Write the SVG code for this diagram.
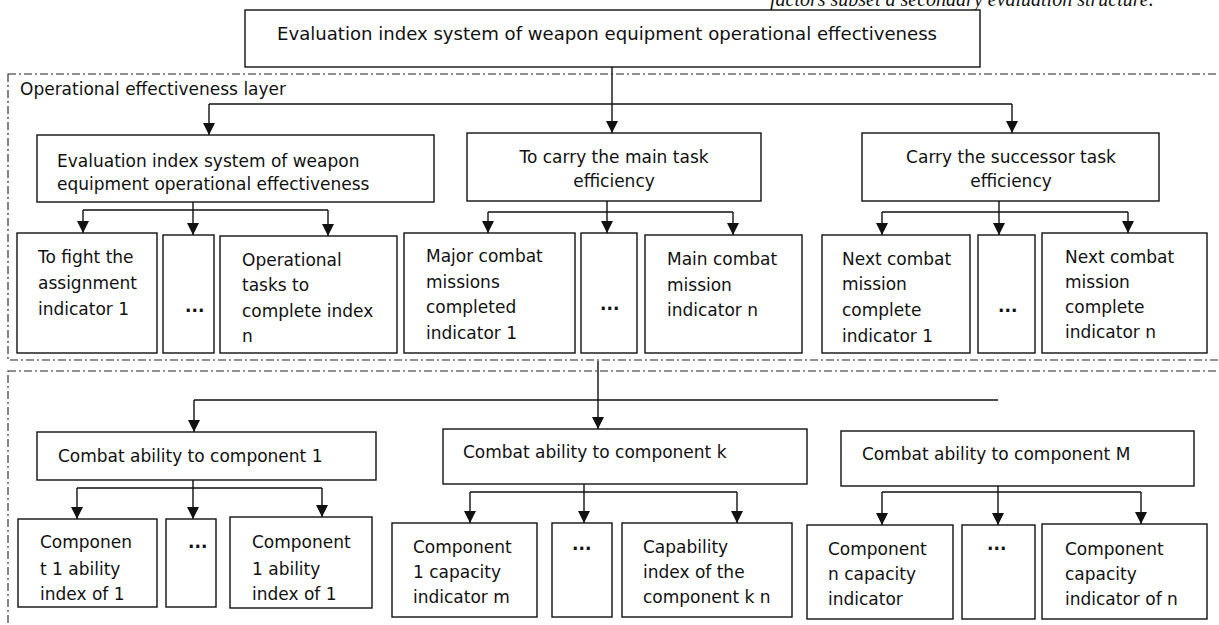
<svg xmlns="http://www.w3.org/2000/svg" width="1219" height="625" viewBox="0 0 1219 625">
<style>
text{font-family:"DejaVu Sans","Liberation Sans",sans-serif;font-size:17px;fill:#111}
.box{fill:#fff;stroke:#111;stroke-width:1.4}
.layer{fill:none;stroke:#222;stroke-width:1.1;stroke-dasharray:8 3 2 3}
.ln{fill:none;stroke:#111;stroke-width:1.4}
.c{text-anchor:middle}
.dots{font-weight:bold}
.cap{font-family:"Liberation Serif",serif;font-size:20px;font-style:italic}
</style>
<defs>
<marker id="ah" markerUnits="userSpaceOnUse" markerWidth="14" markerHeight="14" refX="12" refY="6" orient="auto">
<path d="M0,0 L12,6 L0,12 Z" fill="#111"/>
</marker>
</defs>
<text class="cap" x="770" y="6">factors subset a secondary evaluation structure.</text>
<g id="layers">
<rect class="layer" x="8" y="74" width="1230" height="286"/>
<rect class="layer" x="8" y="371" width="1230" height="280"/>
<text x="20" y="95">Operational effectiveness layer</text>
</g>
<g id="connectors">
<path class="ln" d="M612,67 V133" marker-end="url(#ah)"/>
<path class="ln" d="M209,104 H1012"/>
<path class="ln" d="M209,104 V135" marker-end="url(#ah)"/>
<path class="ln" d="M1012,104 V133" marker-end="url(#ah)"/>
<path class="ln" d="M193,202 V210 M83,210 H328"/>
<path class="ln" d="M83,210 V233" marker-end="url(#ah)"/>
<path class="ln" d="M193,210 V235" marker-end="url(#ah)"/>
<path class="ln" d="M328,210 V236" marker-end="url(#ah)"/>
<path class="ln" d="M607,201 V212 M488,212 H733"/>
<path class="ln" d="M488,212 V233" marker-end="url(#ah)"/>
<path class="ln" d="M607,212 V233" marker-end="url(#ah)"/>
<path class="ln" d="M733,212 V235" marker-end="url(#ah)"/>
<path class="ln" d="M999,201 V212 M882,212 H1128"/>
<path class="ln" d="M882,212 V235" marker-end="url(#ah)"/>
<path class="ln" d="M999,212 V235" marker-end="url(#ah)"/>
<path class="ln" d="M1128,212 V233" marker-end="url(#ah)"/>
<path class="ln" d="M598,361 V429" marker-end="url(#ah)"/>
<path class="ln" d="M194,400 H998"/>
<path class="ln" d="M194,400 V432" marker-end="url(#ah)"/>
<path class="ln" d="M193,480 V488 M77,488 H322"/>
<path class="ln" d="M77,488 V519" marker-end="url(#ah)"/>
<path class="ln" d="M193,488 V519" marker-end="url(#ah)"/>
<path class="ln" d="M322,488 V517" marker-end="url(#ah)"/>
<path class="ln" d="M584,484 V492 M470,492 H737"/>
<path class="ln" d="M470,492 V523" marker-end="url(#ah)"/>
<path class="ln" d="M584,492 V523" marker-end="url(#ah)"/>
<path class="ln" d="M737,492 V523" marker-end="url(#ah)"/>
<path class="ln" d="M998,486 V492 M882,492 H1141"/>
<path class="ln" d="M882,492 V525" marker-end="url(#ah)"/>
<path class="ln" d="M998,492 V525" marker-end="url(#ah)"/>
<path class="ln" d="M1141,492 V524" marker-end="url(#ah)"/>
</g>
<g id="root">
<rect class="box" x="245" y="10" width="735" height="57"/>
<text x="277" y="40" textLength="660" lengthAdjust="spacingAndGlyphs">Evaluation index system of weapon equipment operational effectiveness</text>
</g>
<g id="nodeA">
<rect class="box" x="37" y="135" width="397" height="67"/>
<text x="57" y="167">Evaluation index system of weapon</text>
<text x="57" y="190">equipment operational effectiveness</text>
</g>
<g id="nodeB">
<rect class="box" x="467" y="133" width="294" height="68"/>
<text class="c" x="614" y="163">To carry the main task</text>
<text class="c" x="614" y="187">efficiency</text>
</g>
<g id="nodeC">
<rect class="box" x="862" y="133" width="297" height="68"/>
<text class="c" x="1011" y="163">Carry the successor task</text>
<text class="c" x="1011" y="187">efficiency</text>
</g>
<g id="nodeA1">
<rect class="box" x="17" y="233" width="140" height="120"/>
<text x="38" y="263">To fight the</text>
<text x="38" y="289">assignment</text>
<text x="38" y="315">indicator 1</text>
</g>
<g id="nodeA2">
<rect class="box" x="163" y="235" width="51" height="118"/>
<text class="dots" x="185" y="312">...</text>
</g>
<g id="nodeA3">
<rect class="box" x="220" y="236" width="177" height="117"/>
<text x="242" y="266">Operational</text>
<text x="242" y="291">tasks to</text>
<text x="242" y="317">complete index</text>
<text x="242" y="342">n</text>
</g>
<g id="nodeB1">
<rect class="box" x="404" y="233" width="171" height="120"/>
<text x="426" y="262">Major combat</text>
<text x="426" y="288">missions</text>
<text x="426" y="313">completed</text>
<text x="426" y="339">indicator 1</text>
</g>
<g id="nodeB2">
<rect class="box" x="581" y="233" width="56" height="120"/>
<text class="dots" x="600" y="310">...</text>
</g>
<g id="nodeB3">
<rect class="box" x="645" y="235" width="157" height="118"/>
<text x="667" y="265">Main combat</text>
<text x="667" y="291">mission</text>
<text x="667" y="316">indicator n</text>
</g>
<g id="nodeC1">
<rect class="box" x="822" y="235" width="148" height="118"/>
<text x="842" y="265">Next combat</text>
<text x="842" y="290">mission</text>
<text x="842" y="316">complete</text>
<text x="842" y="342">indicator 1</text>
</g>
<g id="nodeC2">
<rect class="box" x="978" y="235" width="57" height="118"/>
<text class="dots" x="998" y="312">...</text>
</g>
<g id="nodeC3">
<rect class="box" x="1042" y="233" width="165" height="120"/>
<text x="1065" y="263">Next combat</text>
<text x="1065" y="288">mission</text>
<text x="1065" y="313">complete</text>
<text x="1065" y="338">indicator n</text>
</g>
<g id="comp1">
<rect class="box" x="37" y="432" width="339" height="48"/>
<text x="58" y="462">Combat ability to component 1</text>
</g>
<g id="compK">
<rect class="box" x="443" y="429" width="364" height="55"/>
<text x="463" y="458">Combat ability to component k</text>
</g>
<g id="compM">
<rect class="box" x="841" y="431" width="353" height="55"/>
<text x="862" y="460">Combat ability to component M</text>
</g>
<g id="comp1a">
<rect class="box" x="18" y="519" width="139" height="88"/>
<text x="40" y="548">Componen</text>
<text x="40" y="575">t 1 ability</text>
<text x="40" y="600">index of 1</text>
</g>
<g id="comp1b">
<rect class="box" x="166" y="519" width="50" height="88"/>
<text class="dots" x="188" y="548">...</text>
</g>
<g id="comp1c">
<rect class="box" x="230" y="517" width="142" height="91"/>
<text x="252" y="548">Component</text>
<text x="252" y="575">1 ability</text>
<text x="252" y="600">index of 1</text>
</g>
<g id="compKa">
<rect class="box" x="392" y="523" width="145" height="94"/>
<text x="413" y="553">Component</text>
<text x="413" y="578">1 capacity</text>
<text x="413" y="603">indicator m</text>
</g>
<g id="compKb">
<rect class="box" x="552" y="523" width="60" height="94"/>
<text class="dots" x="572" y="550">...</text>
</g>
<g id="compKc">
<rect class="box" x="622" y="523" width="170" height="94"/>
<text x="643" y="553">Capability</text>
<text x="643" y="578">index of the</text>
<text x="643" y="603">component k n</text>
</g>
<g id="compMa">
<rect class="box" x="807" y="525" width="146" height="94"/>
<text x="828" y="555">Component</text>
<text x="828" y="580">n capacity</text>
<text x="828" y="605">indicator</text>
</g>
<g id="compMb">
<rect class="box" x="962" y="525" width="73" height="94"/>
<text class="dots" x="987" y="550">...</text>
</g>
<g id="compMc">
<rect class="box" x="1042" y="524" width="165" height="95"/>
<text x="1065" y="555">Component</text>
<text x="1065" y="580">capacity</text>
<text x="1065" y="605">indicator of n</text>
</g>
</svg>
